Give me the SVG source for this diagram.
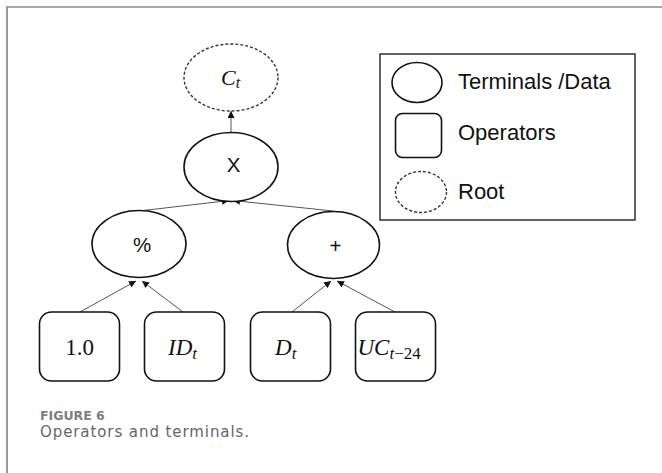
<svg xmlns="http://www.w3.org/2000/svg" width="662" height="473" viewBox="0 0 662 473">
  <style>
    .node { fill: #fff; stroke: #111; stroke-width: 1.6; }
    .root { fill: #fff; stroke: #333; stroke-width: 1.4; stroke-dasharray: 3 2; }
    .edge { stroke: #555; stroke-width: 1; fill: none; marker-end: url(#tip); }
    .sans { font-family: "Liberation Sans", Arial, sans-serif; fill: #111; }
    .math { font-family: "Liberation Serif", "Times New Roman", serif; font-style: italic; fill: #111; }
    .num { font-family: "Liberation Serif", "Times New Roman", serif; fill: #111; }
    .cap { font-family: "DejaVu Sans", "Open Sans", sans-serif; }
  </style>
  <defs>
    <marker id="tip" viewBox="0 0 10 10" refX="10" refY="5" markerWidth="7" markerHeight="7" markerUnits="userSpaceOnUse" orient="auto">
      <path d="M0,0 L10,5 L0,10 z" fill="#111"/>
    </marker>
  </defs>

  <rect width="662" height="473" fill="#fff"/>
  <!-- figure frame: top rule and left rule -->
  <line x1="6" y1="7" x2="662" y2="7" stroke="#8a8a8a" stroke-width="1.5"/>
  <line x1="7" y1="6" x2="7" y2="473" stroke="#999" stroke-width="2"/>

  <!-- connectors -->
  <g id="connectors">
    <line class="edge" x1="231" y1="133" x2="231" y2="111"/>
    <line class="edge" x1="139" y1="211" x2="229" y2="200.5"/>
    <line class="edge" x1="333" y1="211" x2="233" y2="200.5"/>
    <line class="edge" x1="80" y1="312" x2="136" y2="281"/>
    <line class="edge" x1="183" y1="312" x2="142" y2="281"/>
    <line class="edge" x1="292" y1="312" x2="331" y2="281"/>
    <line class="edge" x1="395" y1="312" x2="337" y2="281"/>
  </g>

  <g id="root-ct">
    <ellipse class="root" cx="231" cy="77.5" rx="47" ry="33.5"/>
    <text class="math" x="221" y="85" font-size="22">C<tspan font-size="16" dy="3">t</tspan></text>
  </g>

  <g id="op-mul">
    <ellipse class="node" cx="231" cy="167" rx="47" ry="34.5"/>
    <text class="sans" x="233.5" y="172" font-size="20.5" text-anchor="middle">X</text>
  </g>

  <g id="op-div">
    <ellipse class="node" cx="139" cy="244" rx="47" ry="33.5"/>
    <text class="sans" x="142" y="251.5" font-size="20.5" text-anchor="middle">%</text>
  </g>

  <g id="op-add">
    <ellipse class="node" cx="333.5" cy="245" rx="46" ry="33.5"/>
    <text class="sans" x="335.5" y="253" font-size="20.5" text-anchor="middle">+</text>
  </g>

  <g id="t-const">
    <rect class="node" x="39.5" y="312" width="80" height="69" rx="12"/>
    <text class="num" x="79.5" y="355" font-size="23" text-anchor="middle">1.0</text>
  </g>

  <g id="t-id">
    <rect class="node" x="144.5" y="312" width="80" height="69" rx="12"/>
    <text class="math" x="168" y="355" font-size="23">ID<tspan font-size="17" dy="4">t</tspan></text>
  </g>

  <g id="t-d">
    <rect class="node" x="250.5" y="312" width="80" height="69" rx="12"/>
    <text class="math" x="275" y="355" font-size="23">D<tspan font-size="17" dy="4">t</tspan></text>
  </g>

  <g id="t-uc">
    <rect class="node" x="355.5" y="312" width="80" height="69" rx="12"/>
    <text class="math" x="357.5" y="355" font-size="23">UC<tspan font-size="17" dy="4">t</tspan><tspan font-size="17" font-style="normal">−24</tspan></text>
  </g>

  <g id="legend">
    <rect x="380" y="54" width="255" height="166" fill="#fff" stroke="#222" stroke-width="1.4"/>
    <ellipse class="node" cx="417" cy="82.5" rx="25" ry="20"/>
    <text class="sans" x="458" y="88.5" font-size="22">Terminals /Data</text>
    <rect class="node" x="395.5" y="113.5" width="46" height="44" rx="7"/>
    <text class="sans" x="458" y="140" font-size="22">Operators</text>
    <ellipse class="root" cx="421" cy="192" rx="25.5" ry="20.5"/>
    <text class="sans" x="458" y="198.5" font-size="22">Root</text>
  </g>

  <g id="caption">
    <text class="cap" x="40" y="419.5" font-size="12.5" font-weight="700" fill="#808080">FIGURE 6</text>
    <text class="cap" x="40" y="436.5" font-size="15" fill="#666" textLength="209">Operators and terminals.</text>
  </g>
</svg>
